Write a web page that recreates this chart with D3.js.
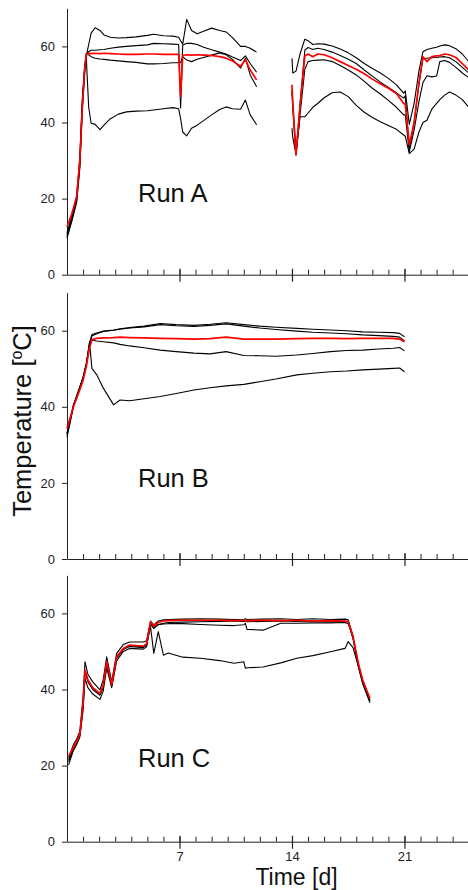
<!DOCTYPE html>
<html>
<head>
<meta charset="utf-8">
<script src="https://cdn.jsdelivr.net/npm/d3@7/dist/d3.min.js"></script>
<style>
  html, body { margin: 0; padding: 0; background: #fff; }
  svg { display: block; font-family: "Liberation Sans", Arial, sans-serif; }
</style>
</head>
<body>
<svg id="chart" width="468" height="890"></svg>
<script>
// ---------------- DATA ----------------
// Run A (gap between day ~11.8 and day 14)
const aDays = [0, 0.3, 0.6, 0.8, 0.95, 1.1, 1.2, 1.35, 1.5, 1.75, 2.05, 2.3, 2.7, 3.2, 3.7, 4.3, 5.0, 5.4, 6.0, 6.6, 6.95, 7.07, 7.2, 7.45, 7.75, 8.1, 8.5, 9.0, 9.5, 9.9, 10.3, 10.8, 11.1, 11.4, 11.8,
  12.9,
  14.0, 14.05, 14.25, 14.5, 14.8, 15.0, 15.3, 15.6, 16.0, 16.5, 17.0, 17.5, 18.0, 18.5, 19.0, 19.5, 20.0, 20.5, 20.95, 21.05, 21.3, 21.6, 21.9, 22.15, 22.4, 22.7, 23.0, 23.2, 23.5, 23.8, 24.2, 24.6, 25.0];
const aProbe1 = [10.5, 15, 20, 30, 45, 54, 57.5, 60.5, 63.5, 64.9, 64.2, 63, 62.4, 62.2, 62.3, 62.5, 62.9, 63.2, 62.8, 62.7, 62.4, 61.5, 60.6, 67.1, 64.2, 63.3, 64, 64.8, 64.2, 63.8, 62.3, 60, 60, 59.5, 58.5,
  null,
  56.9, 53, 53.5, 58, 61.9, 61.5, 60.5, 60.7, 60.6, 60.1, 59.3, 58.3, 57, 55.5, 54.2, 53, 51.6, 49.9, 47.7, 48.3, 39.5, 45, 53.5, 58.6, 59.2, 59.5, 59.8, 60.1, 60.4, 60.2, 59.4, 58, 56];
const aProbe2 = [11, 15.5, 20.5, 31, 46, 55, 58, 58.6, 59, 59, 59.1, 59.2, 59.5, 59.8, 60, 60.2, 60.4, 60.8, 60.7, 60.6, 60.5, 43.8, 60.3, 60.8, 60.8, 60.5, 59.8, 59.1, 58.5, 58, 57.2, 56.3, 57.5, 55.5, 53.2,
  null,
  48.7, 45, 31.8, 45, 59, 59.7, 59.2, 59.5, 59.2, 58.5, 57.6, 56.6, 55.5, 53.8, 52.2, 50.6, 49.2, 47.8, 46.4, 47, 33, 40, 50, 56.8, 56.9, 57, 57.1, 57.2, 57.3, 57, 56, 54.5, 53];
const aProbe3 = [10, 14.5, 19.5, 29, 44, 54, 57.8, 57.8, 57.3, 56.9, 56.7, 56.6, 56.4, 56.2, 56, 55.8, 55.4, 55.4, 55.5, 55.7, 55.7, 55.7, 57.3, 56.4, 56, 56.6, 57.1, 57.7, 58.3, 57.8, 56.6, 54.3, 56.9, 52.5, 49.4,
  null,
  48, 44, 31.5, 42, 54, 56, 56.3, 56.4, 56.5, 56, 55, 53.8, 52.5, 50.8, 49, 47.5, 45.8, 44, 42, 42, 32.3, 38, 45.5, 50.5, 52.3, 52, 52.2, 56, 56.3, 55.8, 54.5, 53, 51.8];
const aProbe4 = [9.6, 14, 19, 28, 43, 53, 57, 44, 39.8, 39.5, 38.1, 39.3, 41, 42.2, 42.8, 43, 43.1, 43.3, 43.6, 43.9, 43.6, 41, 37.5, 36.5, 38.5, 39.3, 40.5, 42, 43.4, 44.1, 43.6, 43.5, 45.9, 42, 39.4,
  null,
  38.5, 36, 31.8, 41.5, 41.5, 42.5, 44, 45, 46.5, 47.8, 48, 46.8, 44.5, 42.7, 41.3, 40.2, 39.2, 38.2, 36.7, 36.4, 31.8, 33, 37.5, 40, 40.6, 43.5, 45, 46, 47.2, 48, 47.2, 46, 44];
const aMean = [12.6, 16, 20.5, 30, 44, 54, 58, 58.2, 58.1, 58.2, 58.1, 58.2, 58.1, 58, 57.9, 57.9, 58, 58, 57.9, 57.9, 57.9, 46.8, 57.6, 57.8, 57.7, 57.8, 57.7, 57.6, 57.3, 56.9, 56.2, 54.7, 56.5, 53.8, 51.2,
  null,
  49.9, 45, 31.5, 44, 57.5, 58, 57.3, 58, 57.8, 57, 56, 55, 54, 52.8, 51.4, 50.2, 49, 47.6, 45, 44.8, 34.1, 40, 50.5, 57.3, 56, 57.3, 57.5, 57.6, 58, 57.8, 57.1, 55.5, 53.8];

// Run B
const bDays = [0, 0.4, 0.8, 1.0, 1.2, 1.4, 1.55, 1.85, 2.26, 2.9, 3.3, 3.9, 4.8, 5.8, 6.8, 7.9, 8.9, 9.9, 11, 12, 13, 14.3, 15.3, 16.4, 17.4, 18.4, 19.4, 20.3, 20.7, 21.0];
const bProbe1 = [33, 40.5, 45.3, 47.9, 51.4, 56.7, 59, 59.4, 59.9, 60.2, 60.5, 60.8, 61.2, 61.9, 61.6, 61.4, 61.7, 62.1, 61.6, 61.2, 60.9, 60.6, 60.4, 60.2, 60, 59.7, 59.6, 59.5, 59.3, 58.4];
const bProbe2 = [33, 40.3, 45, 47.5, 51, 56.3, 58.6, 59.2, 59.8, 60.1, 60.4, 60.7, 61, 61.6, 61.3, 61.1, 61.4, 61.8, 61.2, 60.7, 60.3, 59.9, 59.6, 59.4, 59.2, 58.9, 58.7, 58.5, 58.3, 57.3];
const bProbe3 = [32.5, 40.2, 45, 47.5, 51, 56.3, 57.5, 57.3, 57.1, 56.8, 56.4, 56, 55.5, 54.9, 54.5, 54.1, 53.9, 54.5, 53.5, 53.4, 53.3, 53.6, 54, 54.5, 54.8, 54.9, 55.2, 55.4, 55.6, 54.7];
const bProbe4 = [32, 40, 45, 47.5, 51, 57, 50.1, 48.4, 44.9, 40.5, 41.8, 41.6, 42.1, 42.7, 43.5, 44.4, 45, 45.5, 45.9, 46.6, 47.3, 48.4, 48.8, 49.2, 49.4, 49.7, 49.9, 50.1, 50.2, 49.2];
const bMean = [34.3, 40, 44.5, 47, 50.5, 55.5, 57.6, 58, 58.1, 58.2, 58.3, 58.2, 58.1, 58, 57.9, 57.8, 57.9, 58.3, 57.8, 57.8, 57.8, 57.9, 58, 58, 57.9, 58, 58, 58, 57.8, 57.1];

// Run C
const cDays = [0.1, 0.4, 0.6, 0.8, 1.0, 1.12, 1.3, 1.6, 2.05, 2.25, 2.47, 2.78, 3.09, 3.5, 3.9, 4.75, 4.95, 5.2, 5.4, 5.68, 6.0, 6.3, 7.2, 8.3, 9.5, 10.4, 11.0, 11.1, 11.2, 12.2, 13.3, 14.3, 15.3, 16.4, 17.3, 17.5, 17.8, 18.13, 18.4, 18.85];
const cProbe1 = [22, 25.5, 27, 29, 38, 47.3, 44, 42, 39.9, 42.5, 48.6, 42, 49.5, 51.8, 52.5, 52.5, 52.8, 58, 57, 58, 58.3, 58.4, 58.5, 58.6, 58.5, 58.4, 58.3, 58.6, 58.4, 58.5, 58.6, 58.4, 58.6, 58.4, 58.5, 58.3, 54, 46.5, 42, 37.2];
const cProbe2 = [20.2, 24, 25.5, 27.5, 34.5, 42.9, 40.5, 38.8, 37.4, 39.5, 45.6, 40.5, 47.5, 50, 50.8, 50.6, 51.2, 57.2, 56, 57.1, 57.4, 57.6, 57.7, 57.8, 57.9, 58, 57.9, 57.9, 57.8, 57.9, 58, 57.9, 58, 57.8, 57.9, 57.8, 53.3, 46, 41.5, 36.5];
const cProbe3 = [21.5, 24.5, 26, 28, 36, 44.5, 42, 40, 38.5, 40.5, 47, 41, 48.2, 50.5, 51.3, 51, 51.6, 57.5, 56.3, 57, 57.2, 57.3, 57.3, 57.1, 56.9, 56.8, 57, 57.4, 55.8, 55.6, 57.4, 57.4, 57.5, 57.5, 57.6, 57.3, 53.5, 46.5, 42, 37];
const cProbe4 = [21, 24.5, 26, 28, 36, 45, 42.5, 40.5, 38.7, 40.5, 47, 41, 48.5, 50.7, 51.5, 51.2, 51.8, 56.5, 49.5, 55.2, 49, 49.6, 48.5, 48.2, 47.6, 46.9, 47.3, 45.6, 45.7, 45.9, 47, 48.2, 48.9, 49.9, 50.8, 52.6, 51, 46, 42, 37];
const cMean = [22.5, 24.8, 26.3, 28.3, 36.4, 45.1, 42.5, 40.5, 39, 41, 47.3, 41.2, 48.6, 50.8, 51.7, 51.4, 52, 57.8, 56.7, 57.6, 58, 58.1, 58.2, 58.2, 58.2, 58.1, 58.2, 58, 58.1, 58.2, 58.1, 58.2, 58, 58.1, 58, 57.8, 53.9, 46.9, 42.5, 37.7];

const runLabels = ["Run A", "Run B", "Run C"];
const yTicks = [0, 20, 40, 60];
const xMajorTicks = [7, 14, 21];
const xMinorTicks = d3.range(0, 26);
const yLabel = "Temperature [";
const xLabel = "Time [d]";

// ---------------- LAYOUT ----------------
const svg = d3.select("#chart");
const left = 67, dayPx = 16.07;
const x = d3.scaleLinear().domain([0, 25]).range([left, left + 25 * dayPx]);

const panels = [
  { days: aDays, black: [aProbe1, aProbe2, aProbe3, aProbe4], red: aMean, y0: 274.7, labelY: 202, showX: false },
  { days: bDays, black: [bProbe1, bProbe2, bProbe3, bProbe4], red: bMean, y0: 559,   labelY: 486.7, showX: false },
  { days: cDays, black: [cProbe1, cProbe2, cProbe3, cProbe4], red: cMean, y0: 841.7, labelY: 767.3, showX: true }
];
const pxPerUnit = 3.805;

panels.forEach((p, i) => {
  const y = d3.scaleLinear().domain([0, 70]).range([p.y0, p.y0 - 70 * pxPerUnit]);
  const g = svg.append("g");

  // y axis
  const ya = g.append("g").attr("transform", `translate(${left},0)`)
    .call(d3.axisLeft(y).tickValues(yTicks).tickSize(5).tickSizeOuter(0).tickPadding(7));
  ya.select(".domain").attr("stroke", "#222").attr("stroke-width", 1);
  ya.selectAll(".tick line").attr("stroke", "#222");
  ya.selectAll("text").attr("font-size", 13).attr("fill", "#222")
    .attr("font-family", "Liberation Sans, Arial, sans-serif");

  // x axis: minor ticks (inward)
  const xm = g.append("g").attr("transform", `translate(0,${p.y0})`)
    .call(d3.axisBottom(x).tickValues(xMinorTicks).tickSizeInner(-5).tickSizeOuter(0).tickFormat(""));
  xm.select(".domain").attr("stroke", "#222").attr("stroke-width", 1);
  xm.selectAll(".tick line").attr("stroke", "#222");

  // x axis: major ticks (crossing)
  const xM = g.append("g").attr("transform", `translate(0,${p.y0})`)
    .call(d3.axisBottom(x).tickValues(xMajorTicks).tickSizeInner(7).tickSizeOuter(0)
      .tickFormat(p.showX ? d3.format("d") : ""));
  xM.select(".domain").remove();
  xM.selectAll(".tick line").attr("stroke", "#222").attr("y1", -6).attr("stroke-width", 1.2);
  xM.selectAll("text").attr("font-size", 13).attr("fill", "#222")
    .attr("font-family", "Liberation Sans, Arial, sans-serif")
    .attr("y", 19.5).attr("dy", 0);

  // data lines
  const line = d3.line()
    .defined(d => d[1] != null)
    .x(d => x(d[0]))
    .y(d => y(d[1]));

  p.black.forEach(vals => {
    g.append("path")
      .datum(p.days.map((d, k) => [d, vals[k]]))
      .attr("fill", "none")
      .attr("stroke", "#000")
      .attr("stroke-width", 1.1)
      .attr("stroke-linejoin", "round")
      .attr("d", line);
  });
  g.append("path")
    .datum(p.days.map((d, k) => [d, p.red[k]]))
    .attr("fill", "none")
    .attr("stroke", "#ff0000")
    .attr("stroke-width", 1.7)
    .attr("stroke-linejoin", "round")
    .attr("d", line);

  // run label
  g.append("text")
    .attr("x", 138).attr("y", p.labelY)
    .attr("font-size", 25.5).attr("fill", "#111")
    .text(runLabels[i]);
});

// y axis title (rotated)
const yt = svg.append("text")
  .attr("transform", "translate(31,421) rotate(-90)")
  .attr("text-anchor", "middle")
  .attr("font-size", 25.5)
  .attr("fill", "#111");
yt.append("tspan").text(yLabel);
yt.append("tspan").attr("font-size", 16).attr("dy", -9).text("o");
yt.append("tspan").attr("dy", 9).text("C]");

// x axis title
svg.append("text")
  .attr("x", 296.5).attr("y", 884.5)
  .attr("text-anchor", "middle")
  .attr("font-size", 23)
  .attr("fill", "#111")
  .text(xLabel);
</script>
</body>
</html>
